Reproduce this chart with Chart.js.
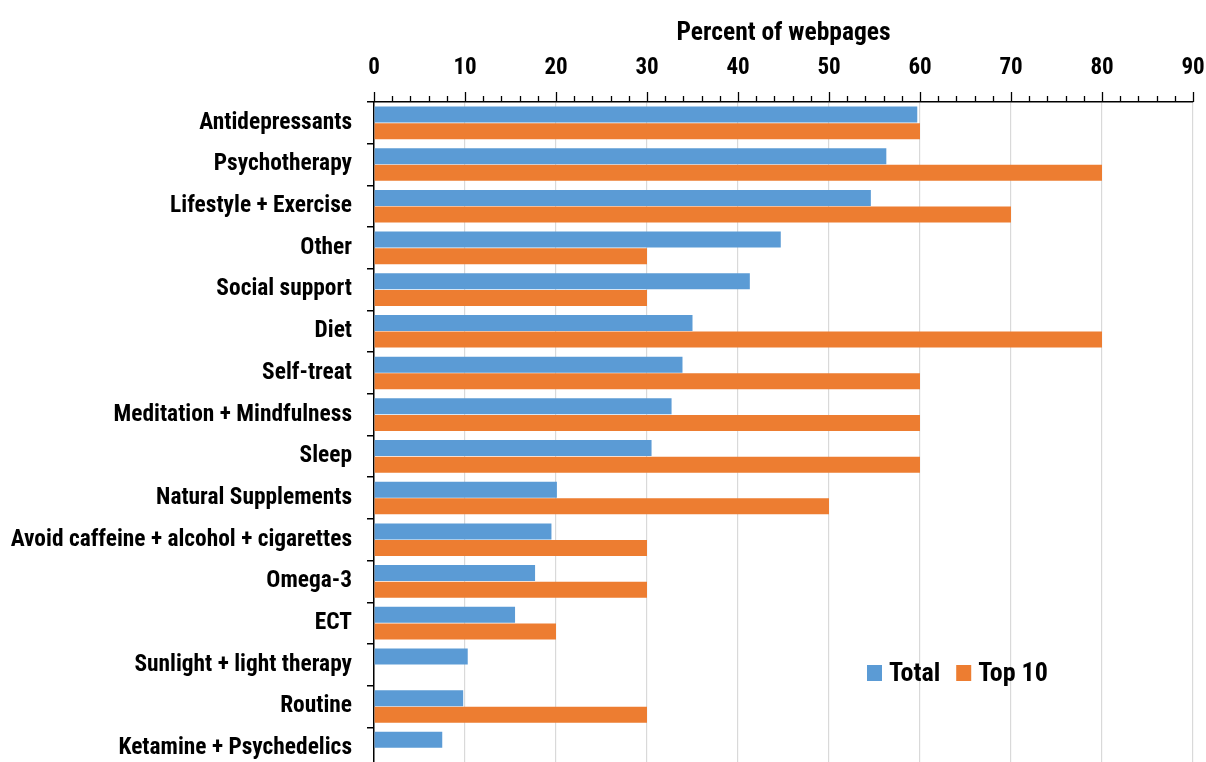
<!DOCTYPE html>
<html>
<head>
<meta charset="utf-8">
<script src="https://cdn.jsdelivr.net/npm/chart.js@4/dist/chart.umd.min.js"></script>
<style>
  html, body { margin: 0; padding: 0; background: #fff; overflow: hidden; }
  #wrap { width: 1206px; height: 772px; }
</style>
</head>
<body>
<div id="wrap"><canvas id="c" width="1206" height="772"></canvas></div>
<script>
const categories = [
  "Antidepressants", "Psychotherapy", "Lifestyle + Exercise", "Other",
  "Social support", "Diet", "Self-treat", "Meditation + Mindfulness",
  "Sleep", "Natural Supplements", "Avoid caffeine + alcohol + cigarettes",
  "Omega-3", "ECT", "Sunlight + light therapy", "Routine", "Ketamine + Psychedelics"
];
const totalValues = [59.7, 56.3, 54.6, 44.7, 41.3, 35.0, 33.9, 32.7, 30.5, 20.1, 19.5, 17.7, 15.5, 10.3, 9.8, 7.5];
const top10Values = [60, 80, 70, 30, 30, 80, 60, 60, 60, 50, 30, 30, 20, 0, 30, 0];
const seriesNames = ["Total", "Top 10"];
const xTickMin = 0, xTickMax = 90, xMajorStep = 10, xMinorStep = 2;
const axisTitle = "Percent of webpages";

const FONT = "'Roboto Condensed', Carlito, 'Liberation Sans', sans-serif";
const BLUE = '#5B9BD5', ORANGE = '#ED7D31';

const tickMarks = {
  id: 'tickMarks',
  afterDraw(chart) {
    const xs = chart.scales.x, ca = chart.chartArea, ctx = chart.ctx;
    ctx.save();
    ctx.strokeStyle = '#000';
    ctx.lineWidth = 1.3;
    xs.ticks.forEach(t => {
      const px = Math.round(xs.getPixelForValue(t.value)) + 0.5;
      const len = (t.value % xMajorStep === 0) ? 10 : 6;
      ctx.beginPath();
      ctx.moveTo(px, ca.top - len);
      ctx.lineTo(px, ca.top);
      ctx.stroke();
    });
    ctx.restore();
  }
};

const insideLegend = {
  id: 'insideLegend',
  afterDraw(chart) {
    const ctx = chart.ctx;
    ctx.save();
    ctx.font = "bold 26px " + FONT;
    ctx.textBaseline = 'middle';
    let x = 867;
    const yc = 673;
    chart.data.datasets.forEach((ds) => {
      ctx.fillStyle = ds.backgroundColor;
      ctx.fillRect(x, yc - 8, 15, 16);
      ctx.fillStyle = '#000';
      ctx.fillText(ds.label, x + 22, yc + 1);
      x += 22 + ctx.measureText(ds.label).width + 16;
    });
    ctx.restore();
  }
};

new Chart(document.getElementById('c'), {
  type: 'bar',
  data: {
    labels: categories,
    datasets: [
      { label: seriesNames[0], data: totalValues, backgroundColor: BLUE, categoryPercentage: 0.8, barPercentage: 0.96 },
      { label: seriesNames[1], data: top10Values, backgroundColor: ORANGE, categoryPercentage: 0.8, barPercentage: 0.96 }
    ]
  },
  options: {
    indexAxis: 'y',
    responsive: false,
    animation: false,
    layout: { padding: { left: 0, right: 13, top: 0, bottom: 3 } },
    plugins: { legend: { display: false }, tooltip: { enabled: false } },
    scales: {
      x: {
        position: 'top',
        min: xTickMin, max: xTickMax,
        afterFit(scale) {
          scale.height = 102;
          scale.paddingLeft = 0; scale.paddingRight = 0;
          scale.paddingTop = 0; scale.paddingBottom = 0;
        },
        ticks: {
          stepSize: xMinorStep,
          autoSkip: false,
          maxRotation: 0,
          padding: 10,
          color: '#000',
          font: { family: FONT, size: 23, weight: 'bold' },
          callback(v) { return v % xMajorStep === 0 ? String(v) : ''; }
        },
        grid: {
          color: ctx => (ctx.tick && ctx.tick.value % xMajorStep === 0 && ctx.tick.value !== 0) ? '#d9d9d9' : 'rgba(0,0,0,0)',
          lineWidth: 1.2,
          tickColor: 'rgba(0,0,0,0)',
          tickLength: 10
        },
        border: { color: '#000', width: 1.5 },
        title: {
          display: true,
          text: axisTitle,
          color: '#000',
          font: { family: FONT, size: 25.5, weight: 'bold' },
          padding: { top: 18, bottom: 0 }
        }
      },
      y: {
        afterFit(scale) {
          scale.width = 374;
          scale.paddingTop = 0; scale.paddingBottom = 0;
          scale.paddingLeft = 0; scale.paddingRight = 0;
        },
        ticks: {
          autoSkip: false,
          padding: 15,
          color: '#000',
          font: { family: FONT, size: 23.4, weight: 'bold' }
        },
        grid: {
          offset: true,
          drawOnChartArea: false,
          tickColor: '#000',
          tickLength: 7,
          lineWidth: 1.5
        },
        border: { color: '#000', width: 1.5 }
      }
    }
  },
  plugins: [tickMarks, insideLegend]
});
</script>
</body>
</html>
